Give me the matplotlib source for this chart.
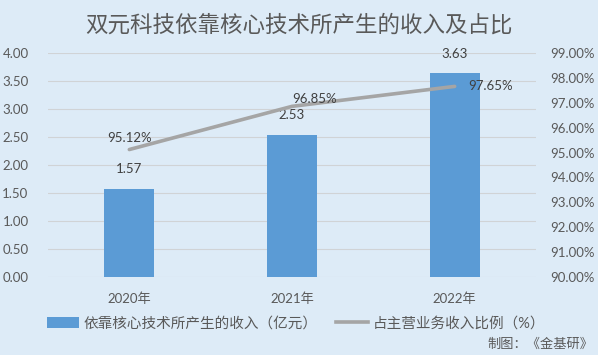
import matplotlib
matplotlib.use("Agg")
import matplotlib.pyplot as plt
from matplotlib.lines import Line2D
from matplotlib.patches import Patch

plt.rcParams['font.family'] = ['Lato', 'Noto Sans CJK SC', 'DejaVu Sans']

years = ["2020年", "2021年", "2022年"]
revenue = [1.57, 2.53, 3.63]
ratio = [95.12, 96.85, 97.65]
left_ticks = [0, 0.5, 1.0, 1.5, 2.0, 2.5, 3.0, 3.5, 4.0]
right_ticks = [90, 91, 92, 93, 94, 95, 96, 97, 98, 99]

bg = "#DDEBF7"
bar_c = "#5B9BD5"
line_c = "#A5A5A5"
txt_c = "#595959"
grid_c = "#D0D3D6"

fig = plt.figure(figsize=(5.98, 3.55), dpi=100, facecolor=bg)
ax = fig.add_axes([48/598, 1-277.3/355, (536-48)/598, (277.3-52.7)/355])
ax.set_facecolor(bg)
x = list(range(len(years)))
ax.bar(x, revenue, width=0.307, color=bar_c, zorder=2)
ax.set_xlim(-0.5, 2.5)
ax.set_ylim(0, 4.0)
ax.set_yticks(left_ticks)
ax.set_yticklabels([f"{v:.2f}" for v in left_ticks])
ax.set_xticks(x)
ax.set_xticklabels(years)
for s in ax.spines.values():
    s.set_visible(False)
ax.grid(axis='y', color=grid_c, linewidth=0.8, zorder=0)
ax.tick_params(axis='both', length=0, colors=txt_c, labelsize=9.5)
ax.tick_params(axis='y', pad=14)
ax.tick_params(axis='x', pad=11)
for xi, v in zip(x, revenue):
    ax.annotate(f"{v:.2f}", (xi, v), xytext=(0, 10), textcoords='offset points',
                ha='center', va='bottom', fontsize=9.5, color="#404040")

ax2 = ax.twinx()
ax2.set_ylim(90, 99)
ax2.set_yticks(right_ticks)
ax2.set_yticklabels([f"{v:.2f}%" for v in right_ticks])
for s in ax2.spines.values():
    s.set_visible(False)
ax2.tick_params(axis='y', length=0, colors=txt_c, labelsize=9.5, pad=10)
ax2.plot(x, ratio, color=line_c, linewidth=2.6, solid_capstyle='round', zorder=3)
offsets = [((0, 4), 'center', 'bottom'), ((0, 1), 'left', 'bottom'), ((10, 0), 'left', 'center')]
for xi, v, (off, ha, va) in zip(x, ratio, offsets):
    ax2.annotate(f"{v:.2f}%", (xi, v), xytext=off, textcoords='offset points',
                 ha=ha, va=va, fontsize=9.5, color="#404040")

fig.text(0.5, 1-25/355, "双元科技依靠核心技术所产生的收入及占比", ha='center', va='center',
         fontsize=16.2, color=txt_c, fontweight='light')

handles = [Patch(facecolor=bar_c, edgecolor='none'),
           Line2D([0], [0], color=line_c, linewidth=2.6)]
labels = ["依靠核心技术所产生的收入（亿元）", "占主营业务收入比例（%）"]
fig.legend(handles, labels, loc='center', bbox_to_anchor=(296/598, 1-323.5/355), ncol=2,
           frameon=False, fontsize=10.5, labelcolor=txt_c, handlelength=2.2,
           handletextpad=0.3, columnspacing=1.3)
fig.text(593/598, 1-344/355, "制图：《金基研》", ha='right', va='center', fontsize=9.5, color=txt_c)

fig.savefig("out.png", dpi=100, facecolor=bg)
